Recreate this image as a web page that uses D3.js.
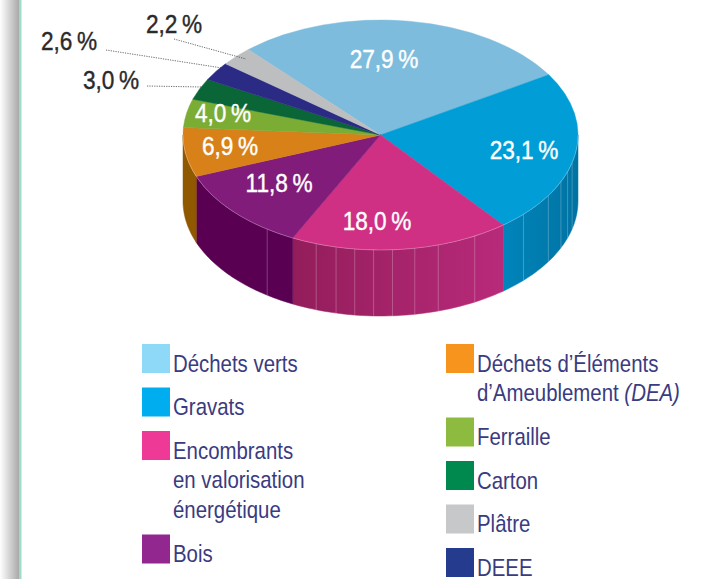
<!DOCTYPE html>
<html lang="fr">
<head>
    <meta charset="utf-8" />
    <title>Déchets</title>
    <script src="https://d3js.org/d3.v7.min.js"></script>
    <style>
        html, body { margin: 0; padding: 0; background: #fff; overflow: hidden; }
        text { font-family: "Liberation Sans", sans-serif; }
    </style>
</head>
<body>
    <div id="graph"></div>
    <script>
        // values
        var categories = ["Déchets verts", "Gravats", "Encombrants", "Bois", "DEA", "Ferraille", "Carton", "DEEE", "Plâtre"];
        var shares = [27.9, 23.1, 18.0, 11.8, 6.9, 4.0, 3.0, 2.6, 2.2];
        var shareLabels = ["27,9", "23,1", "18,0", "11,8", "6,9", "4,0", "3,0", "2,6", "2,2"];

        var legendLeft = [["Déchets verts"], ["Gravats"], ["Encombrants", "en valorisation", "énergétique"], ["Bois"]];
        var legendRight = [["Déchets d’Éléments", "d’Ameublement|(DEA)"], ["Ferraille"], ["Carton"], ["Plâtre"], ["DEEE"]];

        // styles
        var topColors = ["#7dbcdc", "#009dd6", "#cf3083", "#821c7b", "#d98119", "#7bad35", "#0a6637", "#2b2a85", "#bcbec0"];
        var wallColors = ["#7dbcdc", "url(#wallBlue)", "url(#wallPink)", "#5a0052", "#905900", "#7bad35", "#0a6637", "#2b2a85", "#bcbec0"];
        var leftSwatches = ["#8ed8f8", "#00aeef", "#ee3a96", "#92278f"];
        var rightSwatches = ["#f7941d", "#8dbb3f", "#00894f", "#c7c8ca", "#253b8d"];

        // layout
        var width = 713, height = 579;
        var cx = 380.5, cy = 135, rx = 197.5, ry = 115, depth = 66;
        var startDeg = -42;
        var labelXY = [[384, 68], [524, 159], [377, 230], [279, 192], [230, 155], [223, 122], [111, 89], [69, 50], [174, 33]];
        var leaders = { 6: [147, 86, 202, 87], 7: [106, 50, 222, 68], 8: [174, 39, 246, 59] };
        var ribDegrees = [104, 108.7, 114, 121.8, 133.6, 151.5, 163, 170, 176.5, 182, 187.5, 193, 199, 215];

        var svg = d3.select("#graph").append("svg")
            .attr("width", width)
            .attr("height", height)
            .style("display", "block");

        var defs = svg.append("defs");

        function gradient(id, x1, x2, c1, c2) {
            var g = defs.append("linearGradient").attr("id", id)
                .attr("gradientUnits", "userSpaceOnUse")
                .attr("x1", x1).attr("x2", x2).attr("y1", 0).attr("y2", 0);
            g.append("stop").attr("offset", 0).attr("stop-color", c1);
            g.append("stop").attr("offset", 1).attr("stop-color", c2);
        }
        gradient("wallPink", 293, 503, "#931d5b", "#b82a7a");
        gradient("wallBlue", 503, 578, "#0085bb", "#0073a3");
        gradient("edge", 0, 19, "#ffffff", "#a9a9a9");

        //page edge on the left
        svg.append("rect").attr("x", 0).attr("y", 0).attr("width", 19).attr("height", height).attr("fill", "url(#edge)");
        svg.append("rect").attr("x", 19).attr("y", 0).attr("width", 2.5).attr("height", height).attr("fill", "#9ddcc8");

        //the shares add up to 99.5 %, so keep them at their true angle and let the last slice close the circle
        var start = startDeg * Math.PI / 180;
        var pie = d3.pie().sort(null).value(function (d) { return d; })
            .startAngle(start)
            .endAngle(start + 2 * Math.PI * d3.sum(shares) / 100);
        var slices = pie(shares);
        slices[slices.length - 1].endAngle = start + 2 * Math.PI;

        // point on the top ellipse, angle measured clockwise from the top
        function px(a) { return cx + rx * Math.sin(a); }
        function py(a) { return cy - ry * Math.cos(a); }

        //side walls, only the front half of the pie is visible
        var pieChart = svg.append("g");
        var wallLine = d3.line();

        function rimPoints(a0, a1) {
            return d3.range(0, 41).map(function (i) {
                var a = a0 + (a1 - a0) * i / 40;
                return [px(a), py(a)];
            });
        }

        function wallPath(a0, a1) {
            var pts = rimPoints(a0, a1);
            var back = pts.slice().reverse().map(function (p) { return [p[0], p[1] + depth]; });
            return wallLine(pts.concat(back)) + "Z";
        }

        pieChart.selectAll(".wall")
            .data(slices.filter(function (s) {
                return s.endAngle > Math.PI / 2 && s.startAngle < 3 * Math.PI / 2;
            }))
            .enter().append("path")
            .attr("class", "wall")
            .attr("d", function (s) {
                return wallPath(Math.max(s.startAngle, Math.PI / 2), Math.min(s.endAngle, 3 * Math.PI / 2));
            })
            .attr("fill", function (s) { return wallColors[s.index]; })
            .attr("stroke", function (s) { return wallColors[s.index]; })
            .attr("stroke-width", 0.5);

        //thin pale ribs on the wall
        pieChart.selectAll(".rib")
            .data(ribDegrees)
            .enter().append("line")
            .attr("class", "rib")
            .attr("x1", function (d) { return px(d * Math.PI / 180); })
            .attr("x2", function (d) { return px(d * Math.PI / 180); })
            .attr("y1", function (d) { return py(d * Math.PI / 180); })
            .attr("y2", function (d) { return py(d * Math.PI / 180) + depth; })
            .attr("stroke", "#fff")
            .attr("stroke-opacity", 0.3)
            .attr("stroke-width", 0.8);

        //top face: a flat d3 arc squashed to the ellipse
        var arc = d3.arc().innerRadius(0).outerRadius(100);
        pieChart.append("g")
            .attr("transform", "translate(" + cx + "," + cy + ") scale(" + rx / 100 + "," + ry / 100 + ")")
            .selectAll("path")
            .data(slices)
            .enter().append("path")
            .attr("d", arc)
            .attr("fill", function (s) { return topColors[s.index]; })
            .attr("stroke", function (s) { return topColors[s.index]; })
            .attr("stroke-width", 0.3);

        //pale rim where the top meets the wall
        pieChart.append("path")
            .attr("d", wallLine(rimPoints(Math.PI / 2, 3 * Math.PI / 2)))
            .attr("fill", "none")
            .attr("stroke", "#fff")
            .attr("stroke-opacity", 0.35)
            .attr("stroke-width", 0.7);

        //dotted leaders for the small slices
        Object.keys(leaders).forEach(function (k) {
            var l = leaders[k];
            svg.append("line")
                .attr("x1", l[0]).attr("y1", l[1]).attr("x2", l[2]).attr("y2", l[3])
                .attr("stroke", "#444")
                .attr("stroke-width", 0.8)
                .attr("stroke-dasharray", "1.2 1.2");
        });

        //percent labels, squeezed since no condensed face is installed
        svg.selectAll(".share")
            .data(shareLabels)
            .enter().append("text")
            .attr("class", "share")
            .attr("transform", function (d, i) {
                return "translate(" + labelXY[i][0] + "," + labelXY[i][1] + ") scale(0.87,1)";
            })
            .attr("text-anchor", "middle")
            .attr("font-size", 26)
            .attr("fill", function (d, i) { return i >= 6 ? "#2b2a2b" : "#fff"; })
            .attr("stroke", function (d, i) { return i >= 6 ? "#2b2a2b" : "#fff"; })
            .attr("stroke-width", 0.4)
            .text(function (d) { return d + "\u2009%"; });

        //legend
        function drawLegend(items, colors, swatchX, textX) {
            var y = 344;
            items.forEach(function (lines, i) {
                svg.append("rect")
                    .attr("x", swatchX).attr("y", y)
                    .attr("width", 28).attr("height", 29)
                    .attr("fill", colors[i]);
                lines.forEach(function (line, j) {
                    var t = svg.append("text")
                        .attr("transform", "translate(" + textX + "," + (y + 27.5 + j * 29.5) + ") scale(0.85,1)")
                        .attr("font-size", 24)
                        .attr("fill", "#3a3b80");
                    var parts = line.split("|");
                    t.append("tspan").text(parts[0]);
                    if (parts[1]) {
                        t.append("tspan").attr("font-style", "italic").text(" " + parts[1]);
                    }
                });
                y += lines.length * 30 + 13.5;
            });
        }
        drawLegend(legendLeft, leftSwatches, 142, 173);
        drawLegend(legendRight, rightSwatches, 446, 477);
    </script>
</body>
</html>
